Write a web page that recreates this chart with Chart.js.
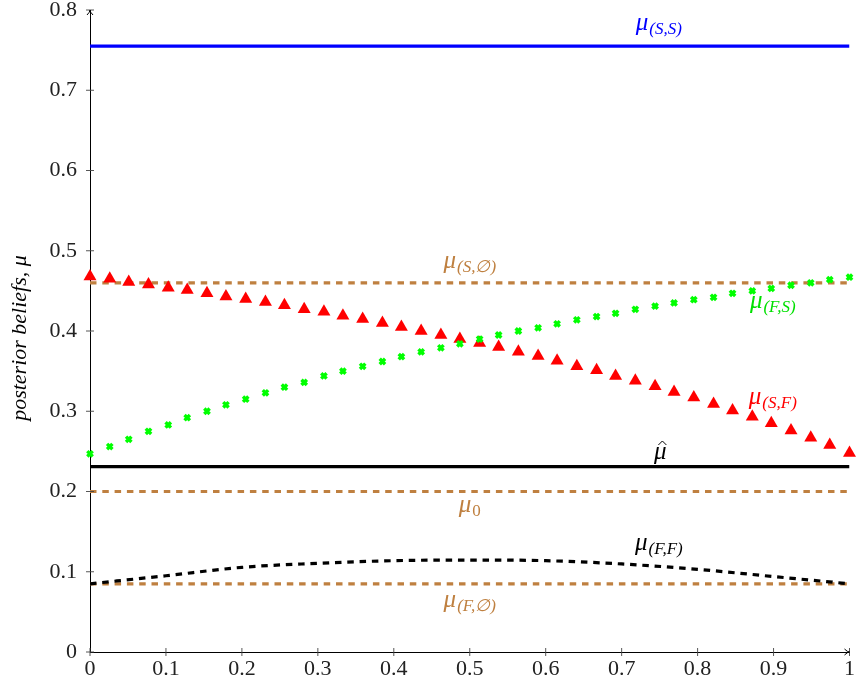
<!DOCTYPE html>
<html>
<head>
<meta charset="utf-8">
<script src="https://cdn.jsdelivr.net/npm/chart.js@4.4.1/dist/chart.umd.min.js"></script>
<style>
  html, body { margin: 0; padding: 0; background: #fff; }
  canvas { display: block; }
</style>
</head>
<body>
<canvas id="c" width="857" height="692"></canvas>
<script>
// ---------- data ----------
const xGrid = [0, 0.026, 0.051, 0.077, 0.103, 0.128, 0.154, 0.179, 0.205, 0.231,
  0.256, 0.282, 0.308, 0.333, 0.359, 0.385, 0.410, 0.436, 0.462, 0.487,
  0.513, 0.538, 0.564, 0.590, 0.615, 0.641, 0.667, 0.692, 0.718, 0.744,
  0.769, 0.795, 0.821, 0.846, 0.872, 0.897, 0.923, 0.949, 0.974, 1];

// mu_(S,F) red triangles
const muSF = [0.468, 0.465, 0.461, 0.458, 0.454, 0.451, 0.447, 0.443, 0.440, 0.436,
  0.432, 0.427, 0.424, 0.419, 0.415, 0.410, 0.405, 0.400, 0.395, 0.390,
  0.385, 0.380, 0.374, 0.369, 0.363, 0.356, 0.351, 0.344, 0.338, 0.331,
  0.324, 0.317, 0.309, 0.301, 0.293, 0.285, 0.276, 0.267, 0.258, 0.248];

// mu_(F,S) green crosses
const muFS = [0.247, 0.256, 0.265, 0.275, 0.283, 0.292, 0.300, 0.308, 0.315, 0.323,
  0.330, 0.336, 0.344, 0.350, 0.356, 0.362, 0.368, 0.374, 0.379, 0.384,
  0.390, 0.395, 0.400, 0.404, 0.409, 0.414, 0.418, 0.422, 0.427, 0.431,
  0.435, 0.439, 0.442, 0.447, 0.450, 0.453, 0.457, 0.460, 0.464, 0.467];

// mu_(F,F) black dashed curve
const xFF = [0, 0.1, 0.2, 0.3, 0.4, 0.5, 0.6, 0.7, 0.8, 0.9, 1];
const muFF = [0.085, 0.095, 0.1055, 0.1105, 0.1138, 0.1146, 0.1138, 0.1097, 0.103, 0.094, 0.085];

// constant levels
const muSS = 0.755;
const muSE = 0.460;
const muHat = 0.231;
const mu0 = 0.200;
const muFE = 0.085;

const xTicks = [0, 0.1, 0.2, 0.3, 0.4, 0.5, 0.6, 0.7, 0.8, 0.9, 1];
const yTicks = [0, 0.1, 0.2, 0.3, 0.4, 0.5, 0.6, 0.7, 0.8];

// label texts and anchors (data coords)
const labels = [
  { x: 0.749, y: 0.775, sub: '(S,S)', color: '#0000ff' },
  { x: 0.5,   y: 0.4785, sub: '(S,\u2205)', color: '#bf8040' },
  { x: 0.899, y: 0.4287, sub: '(F,S)', color: '#00e000' },
  { x: 0.899, y: 0.309, sub: '(S,F)', color: '#ff0000' },
  { x: 0.751, y: 0.2405, sub: '', hat: true, color: '#000000' },
  { x: 0.5,   y: 0.1745, sub: '0', upright: true, color: '#bf8040' },
  { x: 0.749, y: 0.127, sub: '(F,F)', color: '#000000' },
  { x: 0.5,   y: 0.056, sub: '(F,\u2205)', color: '#bf8040' }
];

const BROWN = '#bf8040';
const SERIF = '"Liberation Serif", "DejaVu Serif", serif';

function pts(xs, ys) { return xs.map((x, i) => ({ x: x, y: ys[i] })); }
function flat(v) { return [{ x: 0, y: v }, { x: 1, y: v }]; }

// ---------- extras drawn on top ----------
const extras = {
  id: 'extras',
  afterDraw(chart) {
    const ctx = chart.ctx;
    const xs = chart.scales.x, ys = chart.scales.y;
    const x0 = xs.getPixelForValue(0), y0 = ys.getPixelForValue(0);
    const xEnd = xs.getPixelForValue(1), yTop = ys.getPixelForValue(0.8);
    ctx.save();

    // tick marks crossing the axes
    ctx.strokeStyle = '#444';
    ctx.lineWidth = 0.9;
    ctx.beginPath();
    xTicks.forEach(v => {
      const p = xs.getPixelForValue(v);
      ctx.moveTo(p, y0 - 4); ctx.lineTo(p, y0 + 4);
    });
    yTicks.forEach(v => {
      const p = ys.getPixelForValue(v);
      ctx.moveTo(x0 - 4, p); ctx.lineTo(x0 + 4, p);
    });
    ctx.stroke();

    // arrow heads
    ctx.strokeStyle = '#000';
    ctx.lineWidth = 1;
    ctx.beginPath();
    ctx.moveTo(x0 - 3, yTop + 5); ctx.quadraticCurveTo(x0, yTop + 2, x0, yTop);
    ctx.quadraticCurveTo(x0, yTop + 2, x0 + 3, yTop + 5);
    ctx.moveTo(xEnd - 5, y0 - 3); ctx.quadraticCurveTo(xEnd - 2, y0, xEnd, y0);
    ctx.quadraticCurveTo(xEnd - 2, y0, xEnd - 5, y0 + 3);
    ctx.stroke();

    // math labels
    labels.forEach(l => {
      const px = xs.getPixelForValue(l.x), py = ys.getPixelForValue(l.y);
      const mainFont = 'italic 25px ' + SERIF;
      const subFont = (l.upright ? '' : 'italic ') + '17px ' + SERIF;
      ctx.font = mainFont;
      const wMain = ctx.measureText('\u03bc').width;
      ctx.font = subFont;
      const wSub = l.sub ? ctx.measureText(l.sub).width + 1 : 0;
      const left = px - (wMain + wSub) / 2;
      ctx.fillStyle = l.color;
      ctx.textBaseline = 'alphabetic';
      ctx.textAlign = 'left';
      ctx.font = mainFont;
      ctx.fillText('\u03bc', left, py);
      if (l.sub) {
        ctx.font = subFont;
        ctx.fillText(l.sub, left + wMain + 1, py + 4);
      }
      if (l.hat) {
        ctx.strokeStyle = l.color;
        ctx.lineWidth = 1;
        ctx.beginPath();
        const cx = left + wMain / 2 + 2;
        ctx.moveTo(cx - 4, py - 14);
        ctx.lineTo(cx, py - 18);
        ctx.lineTo(cx + 4, py - 14);
        ctx.stroke();
      }
    });

    // y axis title
    ctx.translate(20, 338);
    ctx.rotate(-Math.PI / 2);
    ctx.fillStyle = '#000';
    ctx.font = 'italic 22px ' + SERIF;
    ctx.textAlign = 'center';
    ctx.textBaseline = 'middle';
    ctx.fillText('posterior beliefs, \u03bc', 0, 0);
    ctx.restore();
  }
};

new Chart(document.getElementById('c'), {
  type: 'scatter',
  data: {
    datasets: [
      { data: pts(xGrid, muFS), showLine: false, pointStyle: 'crossRot',
        pointRadius: 3.8, borderWidth: 3.4, borderColor: '#00ff00', backgroundColor: '#00ff00', clip: false },
      { data: pts(xGrid, muSF), showLine: false, pointStyle: 'triangle',
        pointRadius: 7.5, borderWidth: 0, borderColor: '#ff0000', backgroundColor: '#ff0000', clip: false },
      { data: flat(muSS), showLine: true, borderColor: '#0000ff', borderWidth: 3.2, pointRadius: 0 },
      { data: flat(muHat), showLine: true, borderColor: '#000', borderWidth: 3.2, pointRadius: 0 },
      { data: pts(xFF, muFF), showLine: true, borderColor: '#000', borderWidth: 3.2, pointRadius: 0,
        borderDash: [6.5, 5.8], cubicInterpolationMode: 'monotone' },
      { data: flat(muSE), showLine: true, borderColor: BROWN, borderWidth: 3.2, pointRadius: 0, borderDash: [6.5, 5.8] },
      { data: flat(mu0), showLine: true, borderColor: BROWN, borderWidth: 3.2, pointRadius: 0, borderDash: [6.5, 5.8] },
      { data: flat(muFE), showLine: true, borderColor: BROWN, borderWidth: 3.2, pointRadius: 0, borderDash: [6.5, 5.8] }
    ]
  },
  options: {
    responsive: false,
    animation: false,
    events: [],
    layout: { padding: { left: 0, right: 6, top: 10, bottom: 0 } },
    plugins: { legend: { display: false }, tooltip: { enabled: false } },
    scales: {
      x: {
        type: 'linear', min: 0, max: 1,
        afterBuildTicks: s => { s.ticks = xTicks.map(v => ({ value: v })); },
        afterFit: s => { s.height = 40; s.paddingLeft = 0; s.paddingRight = 0; },
        grid: { display: false, drawTicks: false },
        border: { display: true, color: '#000', width: 1 },
        ticks: { padding: 4, color: '#222', font: { family: SERIF, size: 22 },
          callback: v => String(+v.toFixed(1)), maxRotation: 0, autoSkip: false }
      },
      y: {
        type: 'linear', min: 0, max: 0.8,
        afterBuildTicks: s => { s.ticks = yTicks.map(v => ({ value: v })); },
        afterFit: s => { s.width = 90; s.paddingTop = 0; s.paddingBottom = 0; },
        grid: { display: false, drawTicks: false },
        border: { display: true, color: '#000', width: 1 },
        ticks: { padding: 13, color: '#222', font: { family: SERIF, size: 22 },
          callback: v => String(+v.toFixed(1)), autoSkip: false }
      }
    }
  },
  plugins: [extras]
});
</script>
</body>
</html>
